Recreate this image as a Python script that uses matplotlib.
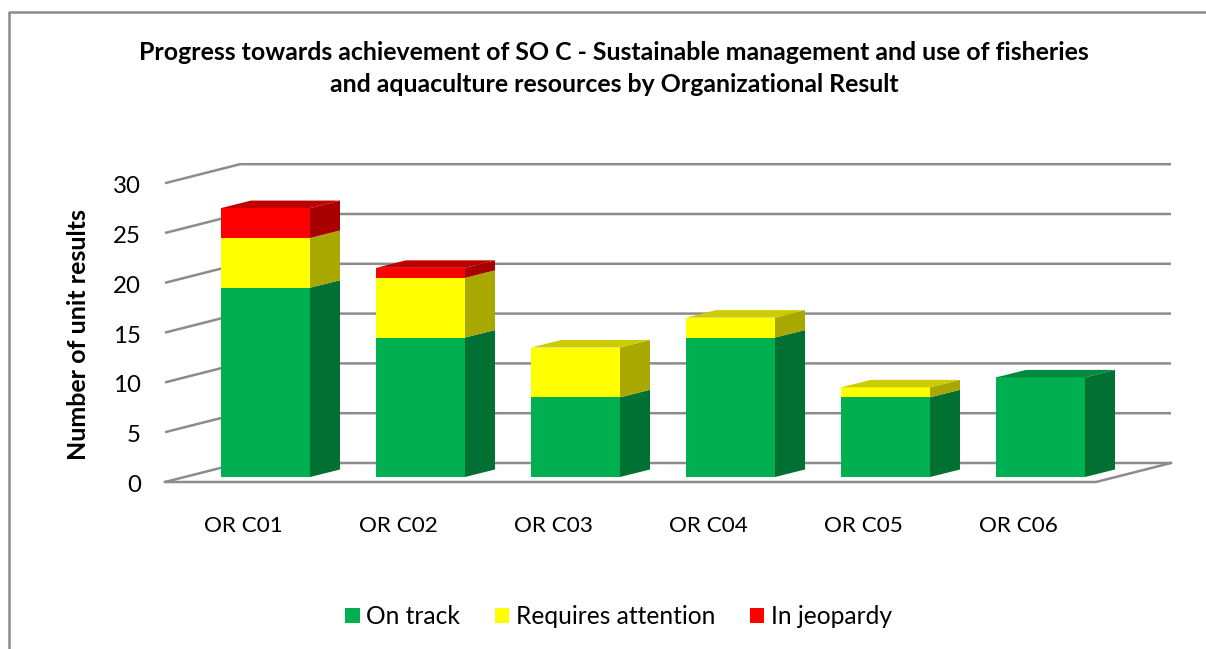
import numpy as np
import matplotlib
matplotlib.use("Agg")
import matplotlib.pyplot as plt
from matplotlib.lines import Line2D
from matplotlib.patches import Polygon
from matplotlib.transforms import ScaledTranslation

plt.rcParams['font.family'] = ['Lato', 'DejaVu Sans']

categories = ['OR C01', 'OR C02', 'OR C03', 'OR C04', 'OR C05', 'OR C06']
on_track = [19, 14, 8, 14, 8, 10]
requires_attention = [5, 6, 5, 2, 1, 0]
in_jeopardy = [3, 1, 0, 0, 0, 0]
y_ticks = [0, 5, 10, 15, 20, 25, 30]

series = [
    ('On track', on_track, '#00B050', '#007033', '#008A3E'),
    ('Requires attention', requires_attention, '#FFFF00', '#A8A800', '#CCCC00'),
    ('In jeopardy', in_jeopardy, '#FF0000', '#A80000', '#C00000'),
]

W, H = 1206, 649
GRID = '#8C8C8C'

# one x unit = 155 px (category spacing), one y unit = 9.96 px
XU, YU = 155.0, 9.96
bar_w = 89 / XU
bar_dx, bar_dy = 30 / XU, 7.5 / YU
wall_dx, wall_dy = 75 / XU, 19 / YU
floor_y = -5 / YU

fig = plt.figure(figsize=(W / 100, H / 100), dpi=100)
left, right, top, bottom = 165, 1171, 164, 482
ax = fig.add_axes([left / W, 1 - bottom / H, (right - left) / W, (bottom - top) / H])
x0 = (left - 265.5) / XU
x1 = (right - 265.5) / XU
ax.set_xlim(x0, x1)
ax.set_ylim(floor_y, (477 - top) / YU)

# wall gridlines and floor
for v in y_ticks:
    y = v + floor_y
    ax.plot([x0, x0 + wall_dx, x1], [y, y + wall_dy, y + wall_dy],
            color=GRID, lw=1.8, clip_on=False, zorder=1, solid_capstyle='butt')
ax.plot([x0, x1 - wall_dx, x1], [floor_y, floor_y, floor_y + wall_dy],
        color=GRID, lw=1.8, clip_on=False, zorder=1)

x = np.arange(len(categories))
bottoms = np.zeros(len(categories))
totals = np.sum([s[1] for s in series], axis=0)
for name, vals, front, side, roof in series:
    vals = np.array(vals)
    ax.bar(x, vals, bar_w, bottom=bottoms, color=front, label=name, zorder=3)
    for i in x:
        if vals[i] == 0:
            continue
        r = x[i] + bar_w / 2
        y1, y2 = bottoms[i], bottoms[i] + vals[i]
        ax.add_patch(Polygon([(r, y1), (r + bar_dx, y1 + bar_dy), (r + bar_dx, y2 + bar_dy), (r, y2)],
                             color=side, lw=0, zorder=3))
        if y2 == totals[i]:
            l = x[i] - bar_w / 2
            ax.add_patch(Polygon([(l, y2), (r, y2), (r + bar_dx, y2 + bar_dy), (l + bar_dx, y2 + bar_dy)],
                                 color=roof, lw=0, zorder=3))
    bottoms = bottoms + vals

for s in ax.spines.values():
    s.set_visible(False)
ax.patch.set_visible(False)

ax.set_xticks(x - 22 / XU)
ax.set_xticklabels(categories)
ax.set_yticks(np.array(y_ticks) + floor_y)
ax.set_yticklabels(y_ticks)
ax.tick_params(axis='x', length=0, pad=24.5, labelsize=16.2, labelcolor='black')
ax.tick_params(axis='y', length=0, pad=17.3, labelsize=17.3, labelcolor='black')

# y labels sit a little below their gridline starts
nudge = ScaledTranslation(0, -1.5 / 100, fig.dpi_scale_trans)
for lab in ax.get_yticklabels():
    lab.set_transform(lab.get_transform() + nudge)

fig.text(78 / W, 1 - 334 / H, 'Number of unit results', rotation=90, ha='center', va='center',
         fontsize=18, fontweight='bold')
fig.text(614 / W, 1 - 52 / H, 'Progress towards achievement of SO C - Sustainable management and use of fisheries',
         ha='center', va='center', fontsize=17.9, fontweight='bold')
fig.text(614 / W, 1 - 85 / H, 'and aquaculture resources by Organizational Result',
         ha='center', va='center', fontsize=17.9, fontweight='bold')

fig.legend(loc='center', bbox_to_anchor=(619 / W, 1 - 617 / H), ncol=3, frameon=False, fontsize=17.7,
           handlelength=0.57, handleheight=0.57, handletextpad=0.28, columnspacing=1.42)

# chart frame, only left and top edges fall inside the picture
fig.add_artist(Line2D([9 / W, 9 / W, 1], [0, 1 - 12 / H, 1 - 12 / H], color=GRID, lw=1.8))

fig.savefig('out.png', dpi=100)
